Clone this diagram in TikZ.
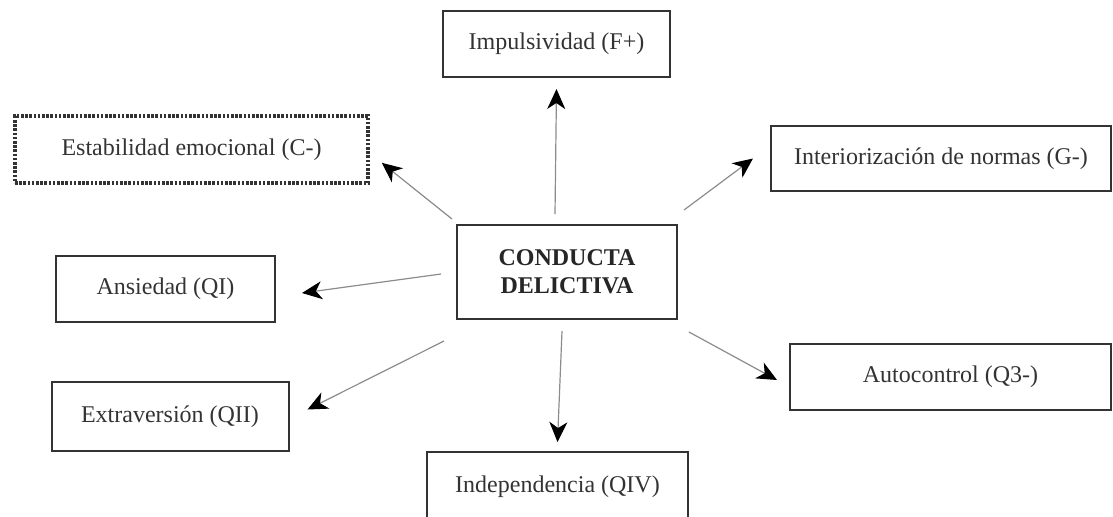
\documentclass[tikz,border=0pt]{standalone}
\usepackage{fontspec}
\setmainfont{Liberation Serif}
\usetikzlibrary{arrows.meta}

\begin{document}
\begin{tikzpicture}[x=0.5pt,y=-0.5pt,>={Stealth[length=10pt,width=9pt,inset=3pt,black]},
          arr/.style={->,draw=black!45,line width=0.6pt},
          factor/.style={draw=black!80,line width=1pt,text=black!80,minimum height=33pt,
            inner sep=0pt,font=\fontsize{12}{14}\selectfont}]
          \useasboundingbox (0,0) rectangle (1113,516);
          \node[factor,minimum width=113.5pt]                  (imp)  at (556.5,44)   {Impulsividad (F+)};
          \node[factor,minimum width=176.5pt,minimum height=33.5pt,
            line width=1.8pt,dash pattern=on 1.3pt off 0.8pt]  (est)  at (191.5,149.5) {Estabilidad emocional (C-)};
          \node[factor,minimum width=170pt,minimum height=32.5pt] (int) at (941,158.5) {Interiorización de normas (G-)};
          \node[factor,minimum width=110pt,minimum height=47pt,align=center,
            text=black!85,font=\fontsize{12}{14}\selectfont\bfseries] (cd) at (567,272) {CONDUCTA\\DELICTIVA};
          \node[factor,minimum width=109.5pt]                  (ans)  at (165.5,289)  {Ansiedad (QI)};
          \node[factor,minimum width=118.5pt,minimum height=34.5pt] (ext) at (170,416.5) {Extraversión (QII)};
          \node[factor,minimum width=160.5pt]                  (auto) at (950.5,377)  {Autocontrol (Q3-)};
          \node[factor,minimum width=130.5pt,minimum height=35pt] (ind) at (557.5,487) {Independencia (QIV)};

          \draw[arr] ([shift={(-12,-10)}]cd.north)     -- ([shift={(0,11)}]imp.south);
          \draw[arr] ([shift={(-4,-5)}]cd.north west)  -- ([shift={(12,-22)}]est.south east);
          \draw[arr] ([shift={(6,-14)}]cd.north east)  -- ([shift={(-17,0)}]int.west);
          \draw[arr] ([shift={(-15,2)}]cd.west)        -- ([shift={(26,4)}]ans.east);
          \draw[arr] ([shift={(-12,21)}]cd.south west) -- ([shift={(18,-7)}]ext.east);
          \draw[arr] ([shift={(-5,11)}]cd.south)       -- ([shift={(0,-9)}]ind.north);
          \draw[arr] ([shift={(11,12)}]cd.south east)  -- ([shift={(-12,3)}]auto.west);
        \end{tikzpicture}
\end{document}
